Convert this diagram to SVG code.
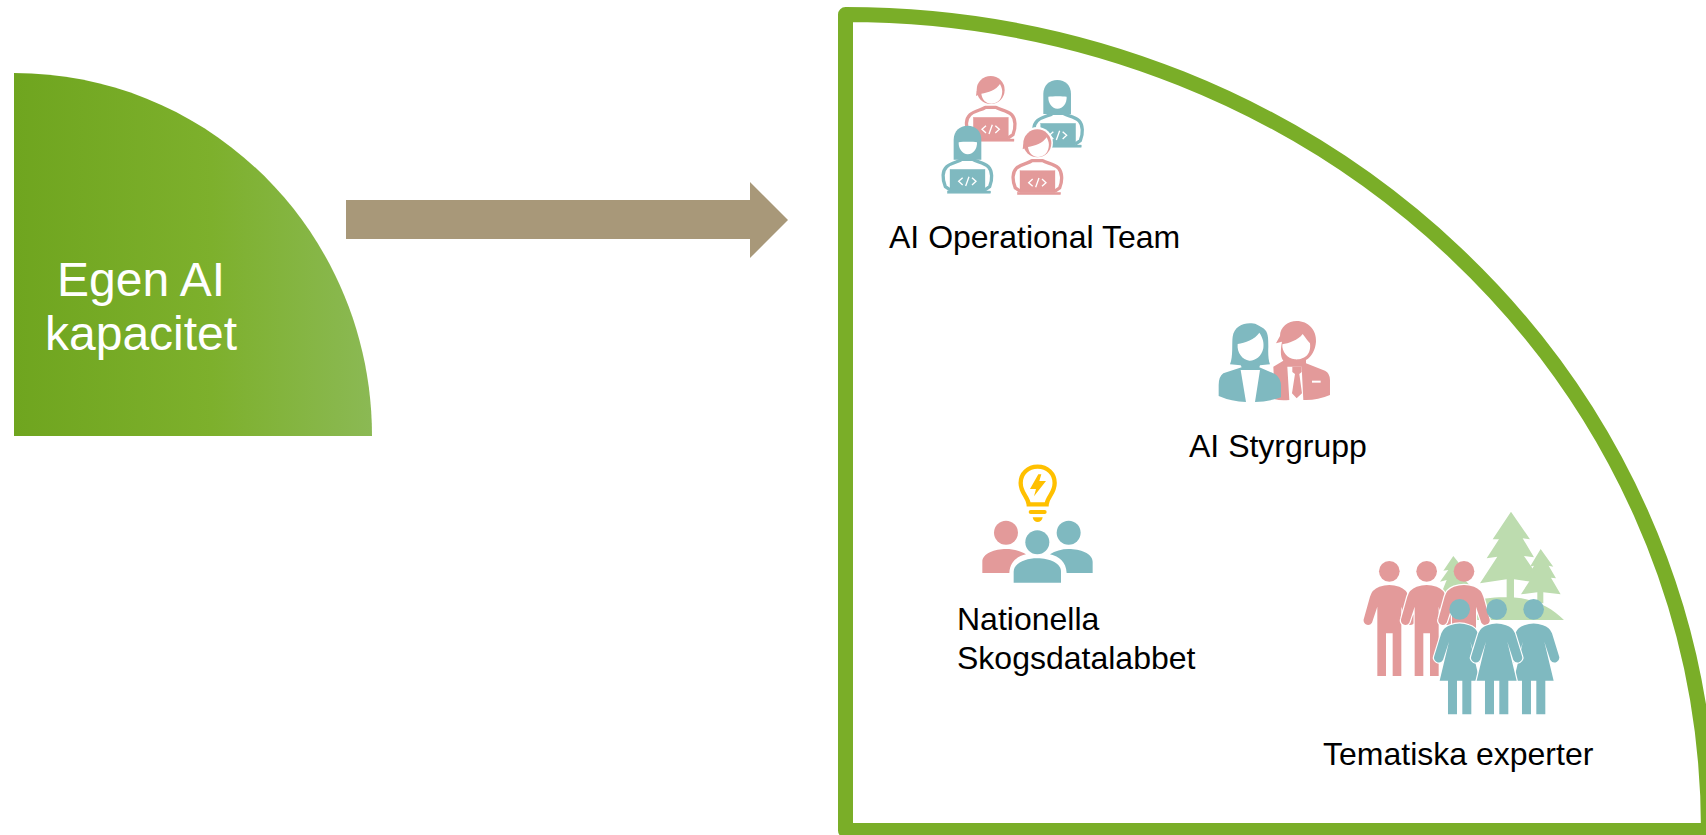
<svg xmlns="http://www.w3.org/2000/svg" width="1706" height="835" viewBox="0 0 1706 835">
<style>
text{font-family:"Liberation Sans",Arial,sans-serif;fill:#000;font-size:32px}
.p{fill:#e39a9a}.t{fill:#7fb9c0}.w{fill:#fff}
.hw{stroke:#fff;stroke-width:7;paint-order:stroke}
.ol{fill:none;stroke-width:10;stroke-linecap:round;stroke-linejoin:round}
.code{fill:none;stroke:#fff;stroke-width:4}
</style>
<defs>
<linearGradient id="g" x1="0" x2="1" y1="0" y2="0"><stop offset="0" stop-color="#6fa51f"/><stop offset=".55" stop-color="#7db02c"/><stop offset="1" stop-color="#8bb954"/></linearGradient>
<g id="dev">
<path class="ol" d="M158 232L146 224C136 200 137 176 150 164C165 151 186 150 196 142H228C240 150 261 151 275 164C287 177 288 202 279 224L267 232"/>
<rect x="160" y="172" width="105" height="66"/>
<rect x="152" y="237" width="130" height="7"/>
<path class="code" d="M198 197L186 208L198 219M226 197L238 208L226 219M217 194L207 222"/>
</g>
<g id="boy">
<circle cx="212" cy="90" r="42"/>
<path d="M170 92L168 108L184 100Z"/>
<path class="w" style="stroke:none" d="M184 101C205 98 228 90 240 72C246 84 248 92 246 102C243 122 230 131 214 131C198 131 186 118 184 101Z"/>
</g>
<g id="girl">
<path d="M370 162V102C370 76 388 60 412 60C436 60 453 76 453 102V162Z"/>
<path class="w" style="stroke:none" d="M385 110C400 108 428 108 440 110C441 128 430 146 412 146C396 146 384 128 385 110Z"/>
</g>
<path id="man" d="M-36 528V320L-52 368Q-60 380-72 372Q-80 365-76 355L-58 290Q-52 268-30 260Q0 250 30 260Q52 268 58 290L76 355Q80 365 72 372Q60 380 52 368L36 320V528H10V400H-10V528Z"/>
<path id="woman" d="M-35 643V542H-60L-32 425L-50 480Q-58 492-70 485Q-80 478-76 468L-55 400Q-48 382-28 376Q0 365 28 376Q48 382 55 400L76 468Q80 478 70 485Q58 492 50 480L32 425L60 542H35V643H8V542H-8V643Z"/>
</defs>
<g id="connectors"><path fill="#a89879" d="M346 200H750V182L788 220L750 258V239H346Z"/></g>
<g id="egen-ai"><path fill="url(#g)" d="M14 73C212 73 372 235 372 436H14Z"/>
<text x="57" y="296" style="font-size:48px;fill:#fff">Egen AI</text>
<text x="45" y="350" style="font-size:48px;fill:#fff">kapacitet</text></g>
<g id="frame"><path fill="none" stroke="#7aae28" stroke-width="15" stroke-linejoin="round" d="M845.5 14.5C1322 14.5 1708.5 379 1708.5 830.5H845.5Z"/></g>
<g id="ai-operational-team" transform="translate(920 60) scale(.3333)">
<g class="p" stroke="#e39a9a"><use href="#dev"/></g>
<g class="p"><use href="#boy"/></g>
<g class="t" stroke="#7fb9c0" transform="translate(202 18)"><use href="#dev"/></g>
<g class="t"><use href="#girl"/></g>
<g class="t" stroke="#7fb9c0" transform="translate(-70 156)"><use href="#dev"/></g>
<g class="t" transform="translate(-269 137)"><use href="#girl"/></g>
<g class="p" stroke="#e39a9a" transform="translate(140 160)"><use href="#dev"/></g>
<circle class="w" cx="352" cy="248" r="47"/>
<g class="p" transform="translate(140 160)"><use href="#boy"/></g>
</g>
<text x="889" y="248">AI Operational Team</text>
<g id="ai-styrgrupp"><g transform="translate(1200 310) scale(.3333)">
<path class="p" d="M228 100L240 78C240 50 265 33 290 33C325 33 350 60 348 95C346 120 335 140 318 150V160L375 182Q390 190 390 210V255Q350 272 310 270L305 170H262L268 270Q240 272 225 268L220 170L250 152C240 140 242 115 246 95Z"/>
<path class="w" d="M247 103C265 100 295 90 308 72C318 85 325 95 330 100C335 140 305 150 285 148C262 146 245 125 247 103Z"/>
<path class="p" d="M277 170H305V186L298 192L306 250L290 265L276 250L285 192L277 186Z"/>
<rect class="w" x="336" y="212" width="26" height="6"/>
<path class="t" d="M90 163C100 140 95 100 98 80C102 50 130 38 155 40C170 40 180 50 190 55C205 65 205 85 205 110C204 130 205 150 210 163L180 166L178 172L225 192Q245 205 243 235V262Q205 275 165 276L180 180H122L138 276Q95 275 56 258V225Q56 200 70 190L125 172L122 166Z"/>
<path class="w" d="M113 102C135 98 165 88 178 68C190 85 192 100 190 115C185 140 165 153 148 152C128 150 110 128 113 102Z"/>
</g><text x="1189" y="457">AI Styrgrupp</text></g>
<g id="nationella-skogsdatalabbet"><g transform="translate(970 455) scale(.3333)">
<path fill="none" stroke="#ffc000" stroke-width="13" d="M176 148H230C232 125 254 115 254 84C254 55 232 35 203 35C174 35 152 55 152 84C152 115 174 125 176 148Z"/>
<path fill="#ffc000" d="M205 58L180 102H198L192 124L228 78H208L214 58Z"/>
<path stroke="#ffc000" stroke-width="12" stroke-linecap="round" d="M182 171H224"/>
<path fill="#ffc000" d="M188 187H218C216 206 190 206 188 187Z"/>
<circle class="p" cx="108" cy="233" r="36"/>
<path class="p" d="M37 354V320C37 295 75 282 108 282C130 282 152 288 168 298C140 305 120 320 118 354Z"/>
<circle class="t" cx="296" cy="233" r="36"/>
<path class="t" d="M368 354V320C368 295 330 282 296 282C275 282 255 288 240 298C268 305 288 320 290 354Z"/>
<circle class="t" cx="202" cy="262" r="36"/>
<path class="t" d="M131 383V350C131 325 165 310 202 310C240 310 273 325 273 350V383Z"/>
</g><text x="957" y="630">Nationella</text><text x="957" y="669">Skogsdatalabbet</text></g>
<g id="tematiska-experter"><g transform="translate(1350 500) scale(.3333)">
<g fill="#bddcaf">
<path d="M483 35L540 118L518 115L552 172L522 168L578 250L492 238V295H470V238L390 250L442 170L410 175L447 118L428 118Z"/>
<path d="M572 147L610 200L596 197L618 235L603 233L632 283L580 277V310H562V277L513 283L545 233L530 235L552 197L540 200Z"/>
<path d="M310 168L345 212L330 210L355 240L345 240L390 290L270 290L290 240L270 245L295 210L280 212Z"/>
<path d="M265 360C310 310 400 290 470 292C550 292 600 320 642 360Z"/>
</g>
<use href="#man" class="p" x="118"/>
<use href="#man" class="p hw" x="230"/>
<use href="#man" class="p hw" x="342"/>
<circle class="p" cx="118" cy="214" r="31"/><circle class="p" cx="230" cy="214" r="31"/><circle class="p" cx="342" cy="214" r="31"/>
<use href="#woman" class="t hw" x="551"/>
<use href="#woman" class="t hw" x="329"/>
<use href="#woman" class="t hw" x="440"/>
<circle class="t" cx="329" cy="328" r="31"/><circle class="t" cx="440" cy="328" r="31"/><circle class="t" cx="551" cy="328" r="31"/>
</g><text x="1323" y="765">Tematiska experter</text></g>
</svg>
